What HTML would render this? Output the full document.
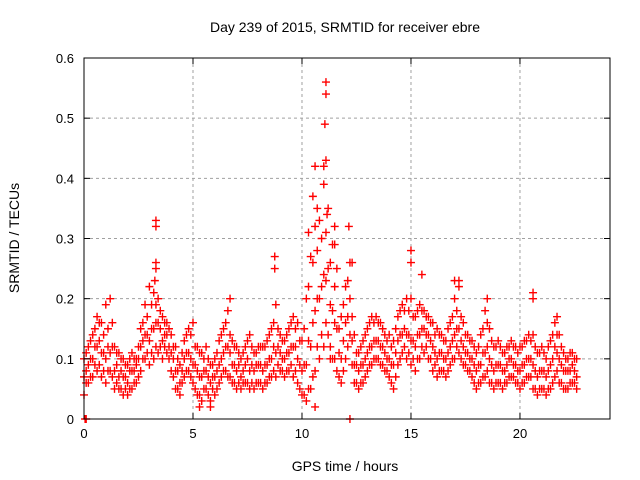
<!DOCTYPE html>
<html><head><meta charset="utf-8"><style>
body{margin:0;background:#fff}
svg{display:block;font-family:"Liberation Sans",sans-serif}
</style></head><body>
<svg id="chart" width="640" height="480">
<text x="345" y="32" font-size="14" text-anchor="middle">Day 239 of 2015, SRMTID for receiver ebre</text>
<text x="345" y="471" font-size="14" text-anchor="middle">GPS time / hours</text>
<text transform="translate(19,238) rotate(-90)" font-size="14" text-anchor="middle">SRMTID / TECUs</text>
<g id="grid"></g><g id="pts"></g><g id="axes"></g>
</svg>
<script>
const hours=[0,0.2,0.4,0.6,0.8,1.0,1.2,1.4,1.6,1.8,2.0,2.2,2.4,2.6,2.8,3.0,3.2,3.4,3.6,3.8,4.0,4.2,4.4,4.6,4.8,5.0,5.2,5.4,5.6,5.8,6.0,6.2,6.4,6.6,6.8,7.0,7.2,7.4,7.6,7.8,8.0,8.2,8.4,8.6,8.8,9.0,9.2,9.4,9.6,9.8,10.0,10.2,10.4,10.6,10.8,11.0,11.2,11.4,11.6,11.8,12.0,12.2,12.4,12.6,12.8,13.0,13.2,13.4,13.6,13.8,14.0,14.2,14.4,14.6,14.8,15.0,15.2,15.4,15.6,15.8,16.0,16.2,16.4,16.6,16.8,17.0,17.2,17.4,17.6,17.8,18.0,18.2,18.4,18.6,18.8,19.0,19.2,19.4,19.6,19.8,20.0,20.2,20.4,20.6,20.8,21.0,21.2,21.4,21.6,21.8,22.0,22.2,22.4,22.6];
const lowVals=[.04,.06,.07,.08,.07,.06,.08,.05,.05,.04,.04,.05,.06,.08,.10,.09,.10,.11,.10,.11,.08,.05,.04,.07,.08,.06,.04,.03,.05,.03,.04,.06,.08,.07,.06,.05,.05,.06,.05,.05,.06,.05,.06,.07,.07,.08,.07,.08,.07,.06,.04,.03,.05,.08,.10,.12,.14,.10,.08,.06,.10,.14,.06,.05,.06,.08,.09,.10,.09,.08,.07,.05,.09,.11,.10,.09,.08,.10,.11,.10,.08,.07,.08,.07,.09,.10,.11,.09,.08,.07,.05,.06,.07,.06,.05,.06,.05,.06,.07,.06,.05,.06,.07,.05,.04,.05,.04,.05,.07,.06,.05,.05,.06,.05];
const midVals=[.07,.09,.10,.12,.11,.10,.11,.08,.07,.07,.06,.08,.09,.12,.14,.13,.15,.16,.13,.14,.11,.08,.06,.10,.11,.09,.08,.07,.08,.06,.07,.09,.11,.12,.09,.08,.07,.09,.08,.08,.09,.08,.09,.10,.11,.11,.10,.11,.12,.10,.08,.09,.12,.18,.20,.24,.25,.18,.15,.10,.16,.20,.09,.08,.09,.11,.12,.13,.12,.11,.10,.09,.13,.14,.14,.13,.12,.14,.15,.14,.12,.10,.11,.10,.12,.14,.15,.12,.11,.10,.08,.09,.11,.10,.08,.09,.08,.09,.10,.09,.08,.09,.10,.09,.07,.08,.07,.09,.12,.10,.08,.08,.09,.07];
const highVals=[.10,.12,.14,.17,.16,.19,.20,.12,.11,.10,.09,.11,.10,.15,.19,.22,.21,.20,.17,.16,.14,.12,.09,.13,.15,.16,.12,.11,.12,.09,.10,.13,.15,.18,.13,.12,.10,.12,.14,.11,.12,.12,.13,.15,.19,.14,.13,.15,.17,.16,.13,.20,.27,.32,.33,.42,.35,.29,.25,.17,.22,.26,.14,.11,.13,.15,.17,.17,.16,.14,.14,.13,.17,.19,.20,.20,.17,.19,.18,.17,.16,.15,.14,.13,.16,.20,.22,.16,.14,.13,.11,.14,.18,.15,.12,.13,.11,.12,.13,.12,.12,.13,.14,.14,.11,.12,.10,.13,.16,.14,.11,.10,.11,.10];
const hours2=[0.1,0.3,0.5,0.7,0.9,1.1,1.3,1.5,1.7,1.9,2.1,2.3,2.5,2.7,2.9,3.1,3.3,3.5,3.7,3.9,4.1,4.3,4.5,4.7,4.9,5.1,5.3,5.5,5.7,5.9,6.1,6.3,6.5,6.7,6.9,7.1,7.3,7.5,7.7,7.9,8.1,8.3,8.5,8.7,8.9,9.1,9.3,9.5,9.7,9.9,10.1,10.3,10.5,10.7,10.9,11.1,11.3,11.5,11.7,11.9,12.1,12.3,12.5,12.7,12.9,13.1,13.3,13.5,13.7,13.9,14.1,14.3,14.5,14.7,14.9,15.1,15.3,15.5,15.7,15.9,16.1,16.3,16.5,16.7,16.9,17.1,17.3,17.5,17.7,17.9,18.1,18.3,18.5,18.7,18.9,19.1,19.3,19.5,19.7,19.9,20.1,20.3,20.5,20.7,20.9,21.1,21.3,21.5,21.7,21.9,22.1,22.3,22.5];
const lowVals2=[.06,.07,.09,.09,.08,.08,.07,.06,.05,.05,.05,.06,.07,.10,.11,.11,.12,.12,.12,.10,.07,.05,.06,.08,.07,.05,.04,.05,.04,.05,.05,.07,.08,.07,.06,.06,.06,.06,.06,.06,.06,.06,.07,.08,.09,.08,.08,.09,.08,.05,.04,.05,.07,.12,.14,.16,.12,.10,.07,.08,.12,.09,.06,.06,.07,.09,.10,.10,.09,.08,.06,.07,.10,.12,.11,.10,.10,.12,.12,.10,.09,.08,.08,.08,.10,.12,.10,.09,.08,.06,.06,.07,.08,.06,.06,.06,.06,.07,.07,.06,.06,.07,.07,.05,.05,.05,.05,.06,.08,.06,.05,.06,.06];
const midVals2=[.08,.10,.12,.13,.11,.12,.12,.09,.08,.07,.08,.08,.10,.13,.14,.15,.16,.15,.14,.12,.10,.08,.08,.11,.10,.09,.07,.08,.07,.07,.08,.10,.12,.11,.09,.09,.08,.10,.09,.09,.09,.09,.10,.12,.12,.10,.11,.12,.12,.09,.09,.13,.16,.20,.22,.23,.19,.16,.11,.13,.17,.13,.09,.09,.10,.12,.13,.13,.12,.10,.09,.11,.14,.15,.14,.13,.14,.15,.14,.13,.11,.11,.10,.11,.13,.15,.13,.11,.10,.09,.09,.11,.12,.09,.09,.09,.08,.10,.09,.08,.09,.10,.10,.08,.08,.08,.08,.10,.11,.09,.08,.08,.08];
const highVals2=[.11,.13,.15,.16,.14,.15,.16,.11,.10,.09,.10,.10,.12,.16,.17,.19,.19,.18,.16,.15,.12,.10,.11,.14,.14,.12,.11,.10,.10,.09,.11,.14,.16,.14,.12,.11,.11,.13,.12,.11,.12,.12,.14,.16,.15,.13,.14,.16,.15,.13,.15,.22,.26,.28,.30,.31,.26,.22,.15,.19,.23,.17,.11,.12,.14,.16,.16,.16,.15,.13,.12,.15,.18,.18,.18,.17,.18,.18,.17,.16,.14,.14,.13,.15,.17,.18,.17,.14,.13,.12,.12,.15,.16,.13,.12,.12,.11,.12,.12,.11,.12,.13,.13,.12,.11,.11,.12,.14,.14,.12,.10,.11,.10];
const spikeHours=[0.05,0.1,3.3,3.3,3.3,3.3,3.25,6.7,8.75,8.75,8.8,10.3,10.5,10.6,10.7,11.1,11.1,11.05,11.1,11.15,11.0,11.5,11.5,12.2,12.15,12.2,12.3,15.0,15.0,15.5,17.0,17.2,18.5,20.6,20.6,21.7,11.3,10.6,5.3,5.8];
const spikeVals=[0,0,0.33,0.32,0.26,0.25,0.23,0.2,0.27,0.25,0.19,0.31,0.37,0.42,0.35,0.56,0.54,0.49,0.43,0.34,0.39,0.32,0.29,0,0.32,0.26,0.26,0.28,0.26,0.24,0.23,0.23,0.2,0.21,0.2,0.17,0.1,0.02,0.02,0.02];
const xTicks=[0,5,10,15,20];
const yTicks=[0,0.1,0.2,0.3,0.4,0.5,0.6];
const yTickLabels=["0","0.1","0.2","0.3","0.4","0.5","0.6"];

const L=84,R=610,T=58,B=419,XMAX=24.13,YMAX=0.6;
const xs=h=>L+h/XMAX*(R-L);
const ys=v=>B-v/YMAX*(B-T);
const NS="http://www.w3.org/2000/svg";
function mk(tag,attrs,parent){const e=document.createElementNS(NS,tag);for(const k in attrs)e.setAttribute(k,attrs[k]);parent.appendChild(e);return e;}
const grid=document.getElementById('grid'),axes=document.getElementById('axes'),pts=document.getElementById('pts');
xTicks.forEach(t=>{
  const x=xs(t);
  if(t>0){const g=mk('line',{x1:x,x2:x,y1:T,y2:B,stroke:'#a0a0a0','stroke-dasharray':'3,3'},grid);
  
  }
  mk('line',{x1:x,x2:x,y1:B,y2:B-6,stroke:'#000'},axes);
  mk('line',{x1:x,x2:x,y1:T,y2:T+6,stroke:'#000'},axes);
  const tx=mk('text',{x:x,y:B+19,'font-size':13,'text-anchor':'middle'},axes);
  tx.textContent=t;
  
  
});
yTicks.forEach((t,i)=>{
  const y=ys(t);
  if(i>0&&i<yTicks.length-1){const g=mk('line',{x1:L,x2:R,y1:y,y2:y,stroke:'#a0a0a0','stroke-dasharray':'3,3'},grid);
  
  }
  mk('line',{x1:L,x2:L+6,y1:y,y2:y,stroke:'#000'},axes);
  mk('line',{x1:R,x2:R-6,y1:y,y2:y,stroke:'#000'},axes);
  const tx=mk('text',{x:L-10,y:y+5,'font-size':13,'text-anchor':'end'},axes);
  tx.textContent=yTickLabels[i];
  
  
});
const frame=mk('rect',{x:L,y:T,width:R-L,height:B-T,fill:'none',stroke:'#000'},axes);


let d='';
function plus(h,v){const x=xs(h),y=ys(v);d+=`M${x-4},${y}h8M${x},${y-4}v8`;}
hours.forEach((h,i)=>{plus(h,lowVals[i]);plus(h,midVals[i]);plus(h,highVals[i]);});
hours2.forEach((h,i)=>{plus(h,lowVals2[i]);plus(h,midVals2[i]);plus(h,highVals2[i]);});
spikeHours.forEach((h,i)=>plus(h,spikeVals[i]));
const p=mk('path',{d:d,stroke:'#ff0000','stroke-width':1.4,fill:'none'},pts);


</script>
</body></html>
